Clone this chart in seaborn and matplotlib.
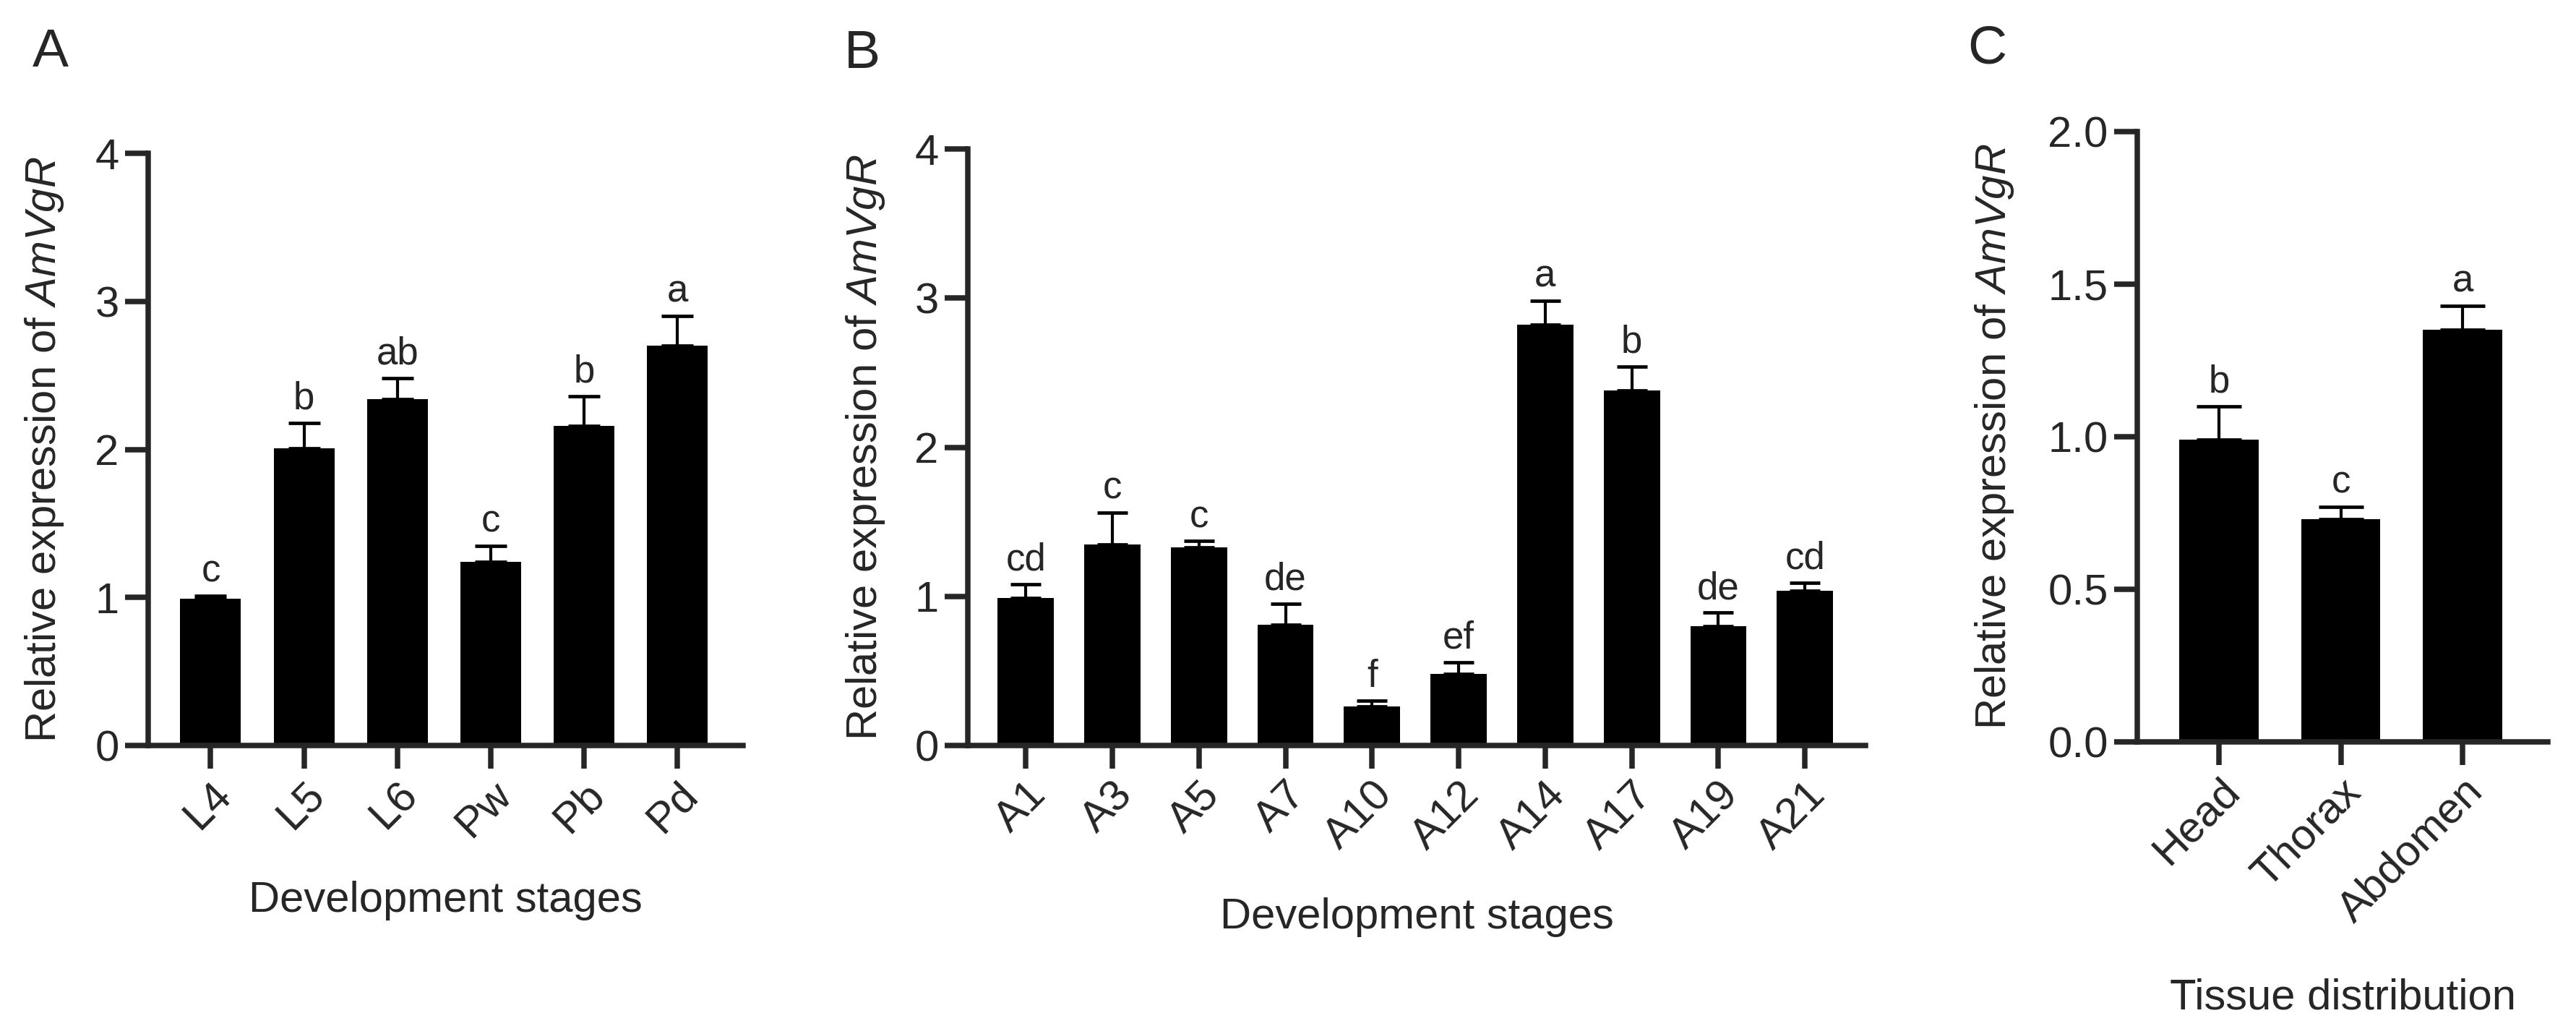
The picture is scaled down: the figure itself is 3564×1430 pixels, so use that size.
import numpy as np
import matplotlib
matplotlib.use('Agg')
import matplotlib.pyplot as plt
import seaborn as sns

# panel A - larval / pupal stages
stages_a = ['L4', 'L5', 'L6', 'Pw', 'Pb', 'Pd']
mean_a = [0.99, 2.01, 2.34, 1.24, 2.16, 2.70]
top_a = [1.01, 2.18, 2.48, 1.35, 2.36, 2.90]
sig_a = ['c', 'b', 'ab', 'c', 'b', 'a']

# panel B - adult days
stages_b = ['A1', 'A3', 'A5', 'A7', 'A10', 'A12', 'A14', 'A17', 'A19', 'A21']
mean_b = [0.99, 1.35, 1.33, 0.81, 0.26, 0.48, 2.82, 2.38, 0.80, 1.04]
top_b = [1.08, 1.56, 1.37, 0.95, 0.30, 0.56, 2.98, 2.54, 0.89, 1.09]
sig_b = ['cd', 'c', 'c', 'de', 'f', 'ef', 'a', 'b', 'de', 'cd']

# panel C - tissues
tissues = ['Head', 'Thorax', 'Abdomen']
mean_c = [0.99, 0.73, 1.35]
top_c = [1.10, 0.77, 1.43]
sig_c = ['b', 'c', 'a']

sns.set_style('ticks')
plt.rcParams['font.family'] = ['Liberation Sans', 'DejaVu Sans']
plt.rcParams['mathtext.fontset'] = 'custom'
plt.rcParams['mathtext.rm'] = 'Liberation Sans'
plt.rcParams['mathtext.it'] = 'Liberation Sans:italic'

fig = plt.figure(figsize=(35.64, 14.30), dpi=100)

ylab = 'Relative expression of $\\it{AmVgR}$'


def panel(rect, cats, means, tops, sig, ymax, ystep, capsize, xlabel, lab_x, lab_y):
    ax = fig.add_axes(rect)
    sns.barplot(x=cats, y=means, color='black', saturation=1, width=0.65,
                errorbar=None, linewidth=0, ax=ax)
    means = np.array(means)
    tops = np.array(tops)
    n = len(cats)
    # only the upper half of the error bar, like the original
    ax.errorbar(np.arange(n), means, yerr=[np.zeros(n), tops - means], fmt='none',
                ecolor='black', elinewidth=3.0, capsize=capsize, capthick=3.4, zorder=5)
    for i in range(n):
        ax.annotate(sig[i], (i, tops[i]), xytext=(0, 14), textcoords='offset points',
                    ha='center', va='baseline', fontsize=38)
    ax.set_xlim(-0.67, n - 1 + 0.7)
    ax.set_ylim(0, ymax)
    ax.set_yticks(np.arange(0, ymax + ystep / 2, ystep))
    sns.despine(ax=ax)
    for s in ['left', 'bottom']:
        ax.spines[s].set_linewidth(5.4)
    ax.tick_params(axis='both', length=23, width=5.4, labelsize=43, pad=6)
    plt.setp(ax.get_xticklabels(), rotation=45, ha='right', rotation_mode='anchor')
    ax.set_ylabel(ylab, fontsize=43)
    ax.yaxis.set_label_coords(lab_x, 0.5)
    ax.set_xlabel(xlabel, fontsize=43, va='top')
    ax.xaxis.set_label_coords(0.5, lab_y)
    return ax


panel([0.0575, 0.279, 0.2309, 0.5727], stages_a, mean_a, top_a, sig_a, 4, 1, 15.5,
      'Development stages', -0.1385, -0.228)
panel([0.3757, 0.279, 0.3485, 0.5769], stages_b, mean_b, top_b, sig_b, 4, 1, 14.8,
      'Development stages', -0.090, -0.2545)
panel([0.8297, 0.2825, 0.1594, 0.5902], tissues, mean_c, top_c, sig_c, 2.0, 0.5, 22,
      'Tissue distribution', -0.296, -0.387)

fig.text(45 / 3564, 1 - 38 / 1430, 'A', fontsize=54, va='top', ha='left')
fig.text(1168 / 3564, 1 - 40 / 1430, 'B', fontsize=54, va='top', ha='left')
fig.text(2722 / 3564, 1 - 33 / 1430, 'C', fontsize=54, va='top', ha='left')

fig.savefig('out.png', dpi=100, facecolor='white')
